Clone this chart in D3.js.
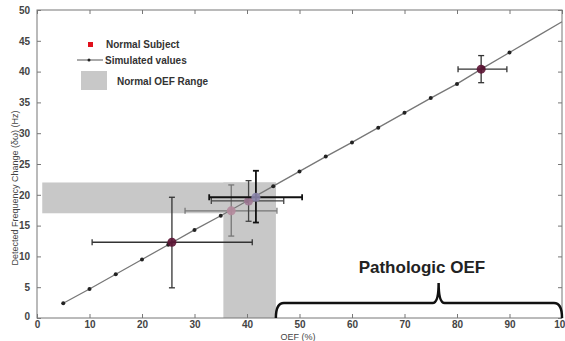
<!DOCTYPE html>
<html>
<head>
<meta charset="utf-8">
<script src="https://cdn.jsdelivr.net/npm/d3@7"></script>
<style>
body { margin: 0; background: #fff; }
svg { display: block; font-family: "Liberation Sans", Arial, sans-serif; }
</style>
</head>
<body>
<svg id="chart"></svg>
<script>
// simulated curve
const oef = [5, 10, 15, 20, 25, 30, 35, 40, 45, 50, 55, 60, 65, 70, 75, 80, 85, 90, 95, 100];
const simulated = [2.4, 4.7, 7.1, 9.5, 11.9, 14.3, 16.6, 19.0, 21.4, 23.8, 26.2, 28.5, 30.9, 33.3, 35.7, 38.0, 40.6, 43.1, 45.6, 48.1];
const markerMax = 90;

// normal subjects with error bars
const subjOef = [25.7, 37.0, 40.3, 41.7, 84.6];
const subjFreq = [12.3, 17.4, 19.0, 19.6, 40.4];
const oefLo = [10.5, 28.2, 33.2, 32.8, 80.2];
const oefHi = [41.0, 45.7, 47.0, 50.5, 89.5];
const freqLo = [4.9, 13.3, 15.7, 15.5, 38.2];
const freqHi = [19.6, 21.6, 22.3, 23.9, 42.6];
const subjColor = ["#5c1434", "#b48a9c", "#a07a96", "#8a84aa", "#5c1434"];
const barColor = ["#333", "#777", "#444", "#111", "#333"];

// ranges
const normOef = [35.5, 45.5];
const normFreq = [17, 22];
const pathOef = [45.5, 100];
const pathPeak = 76.5;

const xTicks = [0, 10, 20, 30, 40, 50, 60, 70, 80, 90, 100];
const yTicks = [0, 5, 10, 15, 20, 25, 30, 35, 40, 45, 50];

const width = 565, height = 341;
const padL = 37, padR = 562, padT = 10, padB = 318;

const svg = d3.select("#chart").attr("width", width).attr("height", height);

const x = d3.scaleLinear([0, 100], [padL, padR]);
const y = d3.scaleLinear([0, 50], [padB, padT]);

const grey = "#c8c8c8";

// normal OEF range (L shape)
svg.append("rect")
	.attr("x", x(1)).attr("y", y(normFreq[1]))
	.attr("width", x(normOef[1]) - x(1))
	.attr("height", y(normFreq[0]) - y(normFreq[1]))
	.attr("fill", grey);
svg.append("rect")
	.attr("x", x(normOef[0])).attr("y", y(normFreq[1]))
	.attr("width", x(normOef[1]) - x(normOef[0]))
	.attr("height", y(0) - y(normFreq[1]))
	.attr("fill", grey);

// axes box with inward ticks
const tickColor = "#777";
svg.append("rect")
	.attr("x", padL).attr("y", padT)
	.attr("width", padR - padL).attr("height", padB - padT)
	.attr("fill", "none").attr("stroke", tickColor).attr("stroke-width", 1);

const axisBottom = d3.axisBottom(x).tickValues(xTicks).tickSizeInner(-4).tickSizeOuter(0).tickPadding(3);
const axisTop = d3.axisTop(x).tickValues(xTicks).tickSizeInner(-4).tickSizeOuter(0).tickFormat("");
const axisLeft = d3.axisLeft(y).tickValues(yTicks).tickSizeInner(-4).tickSizeOuter(0).tickPadding(7);
const axisRight = d3.axisRight(y).tickValues(yTicks).tickSizeInner(-4).tickSizeOuter(0).tickFormat("");

function style(g) {
	g.select(".domain").remove();
	g.selectAll(".tick line").attr("stroke", tickColor);
	g.selectAll(".tick text")
		.attr("fill", "#444")
		.style("font-size", "10px")
		.style("font-weight", "bold")
		.style("font-family", "'Liberation Sans', Arial, sans-serif");
}

svg.append("g").attr("transform", `translate(0,${padB})`).call(axisBottom).call(style);
svg.append("g").attr("transform", `translate(0,${padT})`).call(axisTop).call(style);
svg.append("g").attr("transform", `translate(${padL},0)`).call(axisLeft).call(style)
	.call(g => g.selectAll(".tick text").filter(d => d === 0).attr("dy", "0.1em"));
svg.append("g").attr("transform", `translate(${padR},0)`).call(axisRight).call(style);

// simulated line
const line = d3.line().x((d, i) => x(oef[i])).y(d => y(d));
svg.append("path")
	.datum(simulated)
	.attr("d", line)
	.attr("fill", "none")
	.attr("stroke", "#777")
	.attr("stroke-width", 1.3);

svg.append("g")
	.selectAll("circle")
	.data(oef.filter(v => v <= markerMax))
	.join("circle")
	.attr("cx", d => x(d))
	.attr("cy", (d, i) => y(simulated[i]))
	.attr("r", 2)
	.attr("fill", "#222");

// subjects
const cap = 3;
const subj = svg.append("g");
subjOef.forEach((v, i) => {
	const g = subj.append("g").attr("stroke", barColor[i]).attr("stroke-width", i === 3 ? 1.8 : 1.3);
	const cx = x(v), cy = y(subjFreq[i]);
	g.append("line").attr("x1", x(oefLo[i])).attr("x2", x(oefHi[i])).attr("y1", cy).attr("y2", cy);
	g.append("line").attr("x1", x(oefLo[i])).attr("x2", x(oefLo[i])).attr("y1", cy - cap).attr("y2", cy + cap);
	g.append("line").attr("x1", x(oefHi[i])).attr("x2", x(oefHi[i])).attr("y1", cy - cap).attr("y2", cy + cap);
	g.append("line").attr("x1", cx).attr("x2", cx).attr("y1", y(freqLo[i])).attr("y2", y(freqHi[i]));
	g.append("line").attr("x1", cx - cap).attr("x2", cx + cap).attr("y1", y(freqLo[i])).attr("y2", y(freqLo[i]));
	g.append("line").attr("x1", cx - cap).attr("x2", cx + cap).attr("y1", y(freqHi[i])).attr("y2", y(freqHi[i]));
	subj.append("circle").attr("cx", cx).attr("cy", cy).attr("r", 4.5)
		.attr("fill", subjColor[i]).attr("fill-opacity", 0.9);
});

// pathologic brace
const xs = x(pathOef[0]), xe = x(pathOef[1]), xm = x(pathPeak);
const base = y(0), bar = y(0) - 15, peak = y(0) - 35;
const brace = d3.path();
brace.moveTo(xs, base);
brace.quadraticCurveTo(xs, bar, xs + 8, bar);
brace.lineTo(xm - 6, bar);
brace.quadraticCurveTo(xm, bar, xm, peak);
brace.quadraticCurveTo(xm, bar, xm + 6, bar);
brace.lineTo(xe - 8, bar);
brace.quadraticCurveTo(xe, bar, xe, base);
svg.append("path").attr("d", brace.toString())
	.attr("fill", "none").attr("stroke", "#111").attr("stroke-width", 2.5);

svg.append("text")
	.attr("x", x((pathOef[0] + pathOef[1]) / 2) + 3)
	.attr("y", peak - 10)
	.attr("text-anchor", "middle")
	.attr("fill", "#222")
	.style("font-size", "17px")
	.style("font-weight", "bold")
	.text("Pathologic OEF");

// legend
const lg = svg.append("g").attr("fill", "#333").style("font-size", "10px").style("font-weight", "bold");
lg.append("rect").attr("x", 88).attr("y", 42).attr("width", 5).attr("height", 5).attr("fill", "#e0101c");
lg.append("text").attr("x", 106).attr("y", 48).text("Normal Subject");
lg.append("line").attr("x1", 77).attr("x2", 103).attr("y1", 60).attr("y2", 60).attr("stroke", "#555").attr("stroke-width", 1);
lg.append("circle").attr("cx", 89).attr("cy", 60).attr("r", 1.5).attr("fill", "#222");
lg.append("text").attr("x", 105).attr("y", 63.5).text("Simulated values");
lg.append("rect").attr("x", 81).attr("y", 71).attr("width", 26).attr("height", 19).attr("fill", grey);
lg.append("text").attr("x", 117).attr("y", 84.5).text("Normal OEF Range");

// axis titles
svg.append("text")
	.attr("x", 298).attr("y", 340)
	.attr("text-anchor", "middle")
	.attr("fill", "#444")
	.style("font-size", "9px")
	.text("OEF (%)");

svg.append("text")
	.attr("transform", "translate(18,188) rotate(-90)")
	.attr("text-anchor", "middle")
	.attr("fill", "#444")
	.style("font-size", "9px")
	.text("Detected Frequency Change (δω) (Hz)");
</script>
</body>
</html>
